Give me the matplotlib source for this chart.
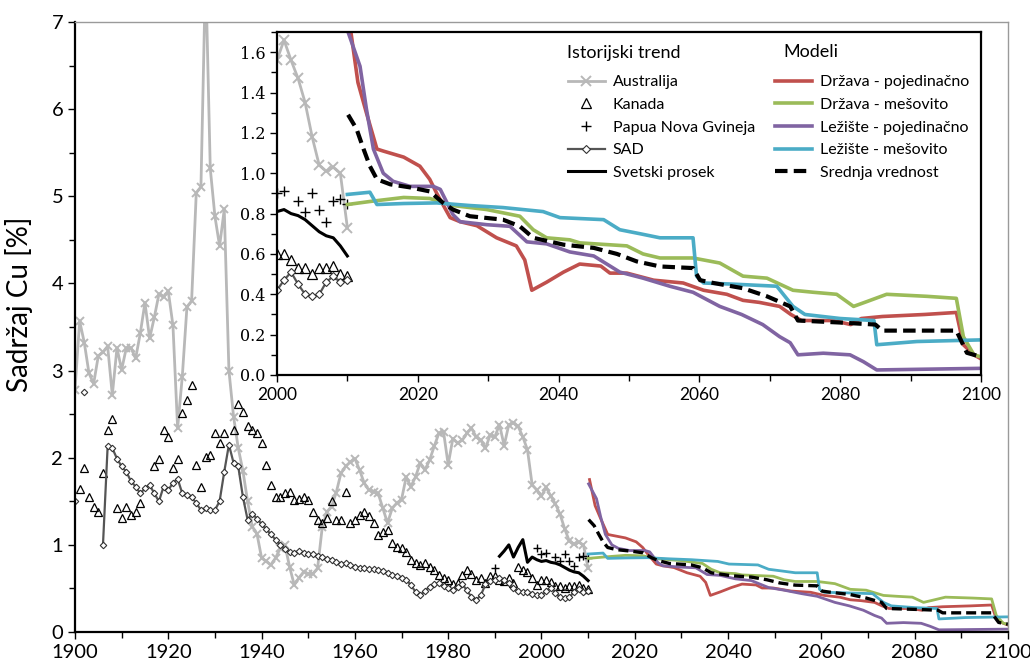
import numpy as np
import matplotlib.pyplot as plt
from matplotlib.ticker import MultipleLocator, FormatStrFormatter
from matplotlib.transforms import ScaledTranslation

plt.rcParams['font.family'] = ['Lato', 'DejaVu Sans']

nan = np.nan

# ---- historical data (annual, 1900-2010) ----
years_hist = np.arange(1900, 2011)

australija = [
    2.78, 3.57, 3.32, 2.97, 2.85, 3.17, 3.21, 3.28, 2.72, 3.26,   # 1900-1909
    3.01, 3.26, 3.26, 3.14, 3.43, 3.78, 3.37, 3.61, 3.88, 3.85,   # 1910-1919
    3.91, 3.52, 2.34, 2.93, 3.73, 3.80, 5.04, 5.11, 7.60, 5.32,   # 1920-1929
    4.77, 4.43, 4.85, 3.00, 2.47, 2.11, 1.85, 1.50, 1.21, 1.13,   # 1930-1939
    0.85, 0.81, 0.77, 0.85, 0.96, 1.00, 0.75, 0.54, 0.62, 0.69,   # 1940-1949
    0.67, 0.67, 0.73, 1.20, 1.38, 1.44, 1.60, 1.82, 1.90, 1.95,   # 1950-1959
    1.99, 1.86, 1.71, 1.63, 1.61, 1.59, 1.42, 1.25, 1.42, 1.48,   # 1960-1969
    1.52, 1.78, 1.67, 1.78, 1.94, 1.86, 1.97, 2.13, 2.28, 2.30,   # 1970-1979
    1.92, 2.22, 2.17, 2.20, 2.28, 2.34, 2.24, 2.20, 2.11, 2.26,   # 1980-1989
    2.24, 2.38, 2.14, 2.38, 2.40, 2.36, 2.24, 2.09, 1.69, 1.63,   # 1990-1999
    1.56, 1.66, 1.56, 1.47, 1.35, 1.18, 1.04, 1.01, 1.03, 1.00,   # 2000-2009
    0.73,                                                         # 2010
]

kanada = [
    nan, 1.64, 1.88, 1.55, 1.44, 1.38, 1.82, 2.32, 2.45, 1.42,
    1.31, 1.44, 1.34, 1.38, 1.48, nan, nan, 1.90, 1.99, 2.32,
    2.24, 1.88, 1.99, 2.51, 2.66, 2.84, 1.92, 1.67, 2.01, 2.03,
    2.28, 2.17, 2.28, nan, 2.32, 2.62, 2.53, 2.36, 2.32, 2.28,
    2.17, 1.92, 1.69, 1.55, 1.55, 1.59, 1.61, 1.52, 1.53, 1.55,
    1.52, 1.38, 1.29, 1.25, 1.31, 1.50, 1.29, 1.29, 1.61, 1.25,
    1.29, 1.34, 1.38, 1.33, 1.25, 1.11, 1.15, 1.17, 1.02, 0.98,
    0.96, 0.92, 0.83, 0.79, 0.77, 0.79, 0.75, 0.71, 0.65, 0.62,
    0.60, 0.55, 0.56, 0.65, 0.71, 0.67, 0.60, 0.62, 0.56, 0.64,
    0.64, 0.60, 0.58, 0.62, 0.56, 0.75, 0.71, 0.69, 0.62, 0.54,
    0.60, 0.60, 0.57, 0.53, 0.53, 0.50, 0.53, 0.53, 0.54, 0.50,
    0.49,
]

sad = [
    1.50, nan, 2.75, nan, nan, nan, 1.00, 2.13, 2.11, 1.99,
    1.90, 1.84, 1.73, 1.67, 1.59, 1.65, 1.69, 1.59, 1.50, 1.67,
    1.63, 1.71, 1.76, 1.59, 1.57, 1.55, 1.48, 1.40, 1.42, 1.40,
    1.40, 1.50, 1.84, 2.15, 1.94, 1.90, 1.55, 1.29, 1.36, 1.30,
    1.24, 1.18, 1.12, 1.06, 1.00, 0.95, 0.92, 0.91, 0.93, 0.91,
    0.90, 0.89, 0.87, 0.86, 0.84, 0.83, 0.80, 0.78, 0.79, 0.77,
    0.75, 0.74, 0.73, 0.72, 0.72, 0.71, 0.70, 0.68, 0.66, 0.64,
    0.62, 0.60, 0.54, 0.46, 0.42, 0.47, 0.52, 0.55, 0.56, 0.53,
    0.50, 0.48, 0.52, 0.55, 0.48, 0.40, 0.37, 0.42, 0.55, 0.58,
    0.60, 0.62, 0.60, 0.56, 0.50, 0.47, 0.46, 0.46, 0.44, 0.42,
    0.42, 0.47, 0.51, 0.45, 0.40, 0.39, 0.40, 0.46, 0.49, 0.46,
    0.47,
]

png_years = [1990, 1999, 2000, 2001, 2003, 2004, 2005, 2006, 2007, 2008, 2009, 2010]
png_vals = [0.74, 0.96, 0.90, 0.91, 0.86, 0.81, 0.90, 0.82, 0.76, 0.86, 0.87, 0.85]

world_years = np.arange(1991, 2011)
world_vals = [0.87, 0.93, 1.00, 0.86, 0.97, 1.06, 0.80, 0.86, 0.83, 0.81,
              0.82, 0.80, 0.79, 0.77, 0.74, 0.71, 0.69, 0.68, 0.64, 0.59]

# ---- model scenarios 2010-2100 (break points) ----
drz_poj_years = [2010.3, 2011.5, 2012.7, 2014.2, 2015.1, 2018, 2020.3, 2021.7, 2022.7, 2024.6,
                 2026, 2028.4, 2031.2, 2034, 2035.2, 2036.2, 2038.3, 2040.7, 2043, 2046,
                 2047.3, 2049.7, 2053.5, 2057.7, 2060.6, 2063.9, 2066.2, 2068.5, 2071.4, 2073,
                 2074.5, 2079, 2081.5, 2083, 2086, 2092, 2096.5, 2097.5, 2099, 2100]
drz_poj = [1.75, 1.45, 1.30, 1.12, 1.11, 1.08, 1.035, 0.97, 0.90, 0.78,
           0.76, 0.74, 0.68, 0.64, 0.57, 0.42, 0.46, 0.51, 0.55, 0.54,
           0.505, 0.505, 0.47, 0.456, 0.42, 0.40, 0.37, 0.36, 0.34, 0.30,
           0.27, 0.27, 0.25, 0.28, 0.29, 0.30, 0.31, 0.15, 0.10, 0.08]

drz_mes_years = [2010, 2013.2, 2018, 2021.7, 2025, 2029.8, 2034.5, 2036.4, 2038.3, 2041.6,
                 2043, 2049.7, 2052, 2054.4, 2059.1, 2062.9, 2066.2, 2069.6, 2073.3, 2076.2,
                 2079.5, 2081.9, 2083.8, 2086.6, 2092.3, 2096.5, 2097.5, 2099, 2100]
drz_mes = [0.845, 0.86, 0.88, 0.875, 0.84, 0.82, 0.787, 0.72, 0.68, 0.67,
           0.655, 0.64, 0.60, 0.58, 0.58, 0.555, 0.49, 0.48, 0.42, 0.41,
           0.40, 0.34, 0.364, 0.40, 0.39, 0.38, 0.19, 0.10, 0.09]

lez_poj_years = [2010.1, 2011.8, 2012.7, 2013.7, 2015.1, 2016.5, 2018.9, 2022.2, 2023.2, 2025,
                 2026, 2029.8, 2033.1, 2035.5, 2038.3, 2041.6, 2045, 2048.7, 2052, 2055.8,
                 2059.1, 2062.9, 2066, 2069, 2071.4, 2072.9, 2074, 2077.6, 2081.4, 2083.3,
                 2085.2, 2100]
lez_poj = [1.70, 1.53, 1.32, 1.12, 1.00, 0.96, 0.935, 0.935, 0.92, 0.795,
           0.76, 0.745, 0.737, 0.66, 0.65, 0.61, 0.59, 0.51, 0.48, 0.44,
           0.41, 0.34, 0.30, 0.25, 0.19, 0.16, 0.10, 0.108, 0.10, 0.066,
           0.025, 0.033]

lez_mes_years = [2010, 2013.2, 2014.2, 2018, 2022.7, 2027.4, 2032.1, 2037.8, 2040.2, 2046.4,
                 2048.7, 2051.6, 2054.4, 2059.1, 2059.6, 2060.6, 2065, 2071, 2073.3, 2075,
                 2080, 2084.8, 2085.2, 2090.9, 2100]
lez_mes = [0.895, 0.906, 0.845, 0.85, 0.853, 0.84, 0.83, 0.81, 0.78, 0.77,
           0.72, 0.70, 0.68, 0.68, 0.49, 0.456, 0.45, 0.44, 0.34, 0.30,
           0.28, 0.27, 0.15, 0.166, 0.174]

sred_years = [2010.1, 2011.3, 2012.3, 2013.2, 2014.2, 2016.1, 2018.9, 2021.7, 2023.6, 2025,
              2027.4, 2032.1, 2034.5, 2036.4, 2040.7, 2045, 2048.3, 2051.1, 2054.4, 2059.1,
              2060.1, 2062, 2066.2, 2069.6, 2072.9, 2074, 2080, 2085, 2086, 2096.5,
              2098, 2100]
sred = [1.29, 1.22, 1.12, 1.035, 0.97, 0.945, 0.93, 0.91, 0.853, 0.82,
        0.787, 0.77, 0.737, 0.68, 0.646, 0.63, 0.60, 0.563, 0.538, 0.53,
        0.47, 0.456, 0.43, 0.39, 0.34, 0.27, 0.26, 0.25, 0.22, 0.22,
        0.11, 0.09]

models = [
    (drz_poj_years, drz_poj, '#c0504d', 'Država - pojedinačno'),
    (drz_mes_years, drz_mes, '#9bbb59', 'Država - mešovito'),
    (lez_poj_years, lez_poj, '#8064a2', 'Ležište - pojedinačno'),
    (lez_mes_years, lez_mes, '#4bacc6', 'Ležište - mešovito'),
]


def draw(a, lw_model, ms):
    a.plot(years_hist, australija, color='#b8b8b8', lw=2, marker='x', ms=ms,
           mew=1.4, label='Australija')
    a.plot(years_hist, kanada, ls='none', marker='^', ms=ms, mfc='none',
           mec='black', mew=0.9, label='Kanada')
    a.plot(png_years, png_vals, ls='none', marker='+', ms=ms, mec='black',
           mew=1.0, label='Papua Nova Gvineja')
    a.plot(years_hist, sad, color='#555555', lw=1.6, marker='D', ms=ms * 0.55,
           mfc='white', mec='#333333', mew=0.8, label='SAD')
    a.plot(world_years, world_vals, color='black', lw=2.2, label='Svetski prosek')
    for yrs, vals, c, lab in models:
        a.plot(yrs, vals, color=c, lw=lw_model, label=lab)
    a.plot(sred_years, sred, color='black', lw=lw_model + 0.4, ls=(0, (3, 1.5)),
           label='Srednja vrednost')


fig = plt.figure(figsize=(10.3, 6.7), dpi=100)

# main axes
ax = fig.add_axes([0.0728, 0.0567, 0.9058, 0.9103])
draw(ax, 2.0, 6)
ax.set_xlim(1900, 2100)
ax.set_ylim(0, 7)
ax.xaxis.set_major_locator(MultipleLocator(20))
ax.xaxis.set_minor_locator(MultipleLocator(10))
ax.yaxis.set_major_locator(MultipleLocator(1))
ax.yaxis.set_minor_locator(MultipleLocator(0.5))
ax.tick_params(which='both', direction='out', labelsize=14.5, width=1)
ax.tick_params(which='major', length=5)
ax.tick_params(which='minor', length=4)
for s in ['left', 'bottom']:
    ax.spines[s].set_linewidth(1.6)
    ax.spines[s].set_color('black')
for s in ['top', 'right']:
    ax.spines[s].set_linewidth(1.0)
    ax.spines[s].set_color('#9a9a9a')
ax.set_ylabel('Sadržaj Cu [%]', fontsize=20)
ax.yaxis.set_label_coords(-0.045, 0.538)
# keep the last year label inside the canvas
last = ax.get_xticklabels()[-1]
last.set_transform(last.get_transform() + ScaledTranslation(-4 / 72, 0, fig.dpi_scale_trans))

# inset axes
ax_in = fig.add_axes([0.2689, 0.4403, 0.6835, 0.5119])
ax_in.set_facecolor('white')
draw(ax_in, 2.6, 7)
ax_in.set_xlim(2000, 2100)
ax_in.set_ylim(0, 1.7)
ax_in.xaxis.set_major_locator(MultipleLocator(20))
ax_in.xaxis.set_minor_locator(MultipleLocator(10))
ax_in.yaxis.set_major_locator(MultipleLocator(0.2))
ax_in.yaxis.set_minor_locator(MultipleLocator(0.1))
ax_in.yaxis.set_major_formatter(FormatStrFormatter('%.1f'))
ax_in.tick_params(which='both', direction='out', labelsize=12.5, width=1)
ax_in.tick_params(which='major', length=5)
ax_in.tick_params(which='minor', length=4)
for lab in ax_in.get_yticklabels():
    lab.set_family('DejaVu Serif')
    lab.set_fontsize(11.5)
for s in ax_in.spines.values():
    s.set_linewidth(1.6)
    s.set_color('black')

# legend: two column blocks with their own headings
handles, labels = ax_in.get_legend_handles_labels()
common = dict(loc='upper left', bbox_transform=fig.transFigure, frameon=False,
              fontsize=11.5, handlelength=2.3, labelspacing=0.53, handletextpad=0.5,
              borderpad=0, borderaxespad=0, numpoints=1)
leg1 = ax_in.legend(handles[:5], labels[:5], bbox_to_anchor=(0.5515, 0.888), **common)
ax_in.add_artist(leg1)
leg2 = ax_in.legend(handles[5:], labels[5:], bbox_to_anchor=(0.7524, 0.888), **common)
fig.text(567 / 1030, 1 - 53 / 670, 'Istorijski trend', fontsize=13, va='center', ha='left')
fig.text(783 / 1030, 1 - 52 / 670, 'Modeli', fontsize=13, va='center', ha='left')

fig.savefig('out.png', dpi=100)
